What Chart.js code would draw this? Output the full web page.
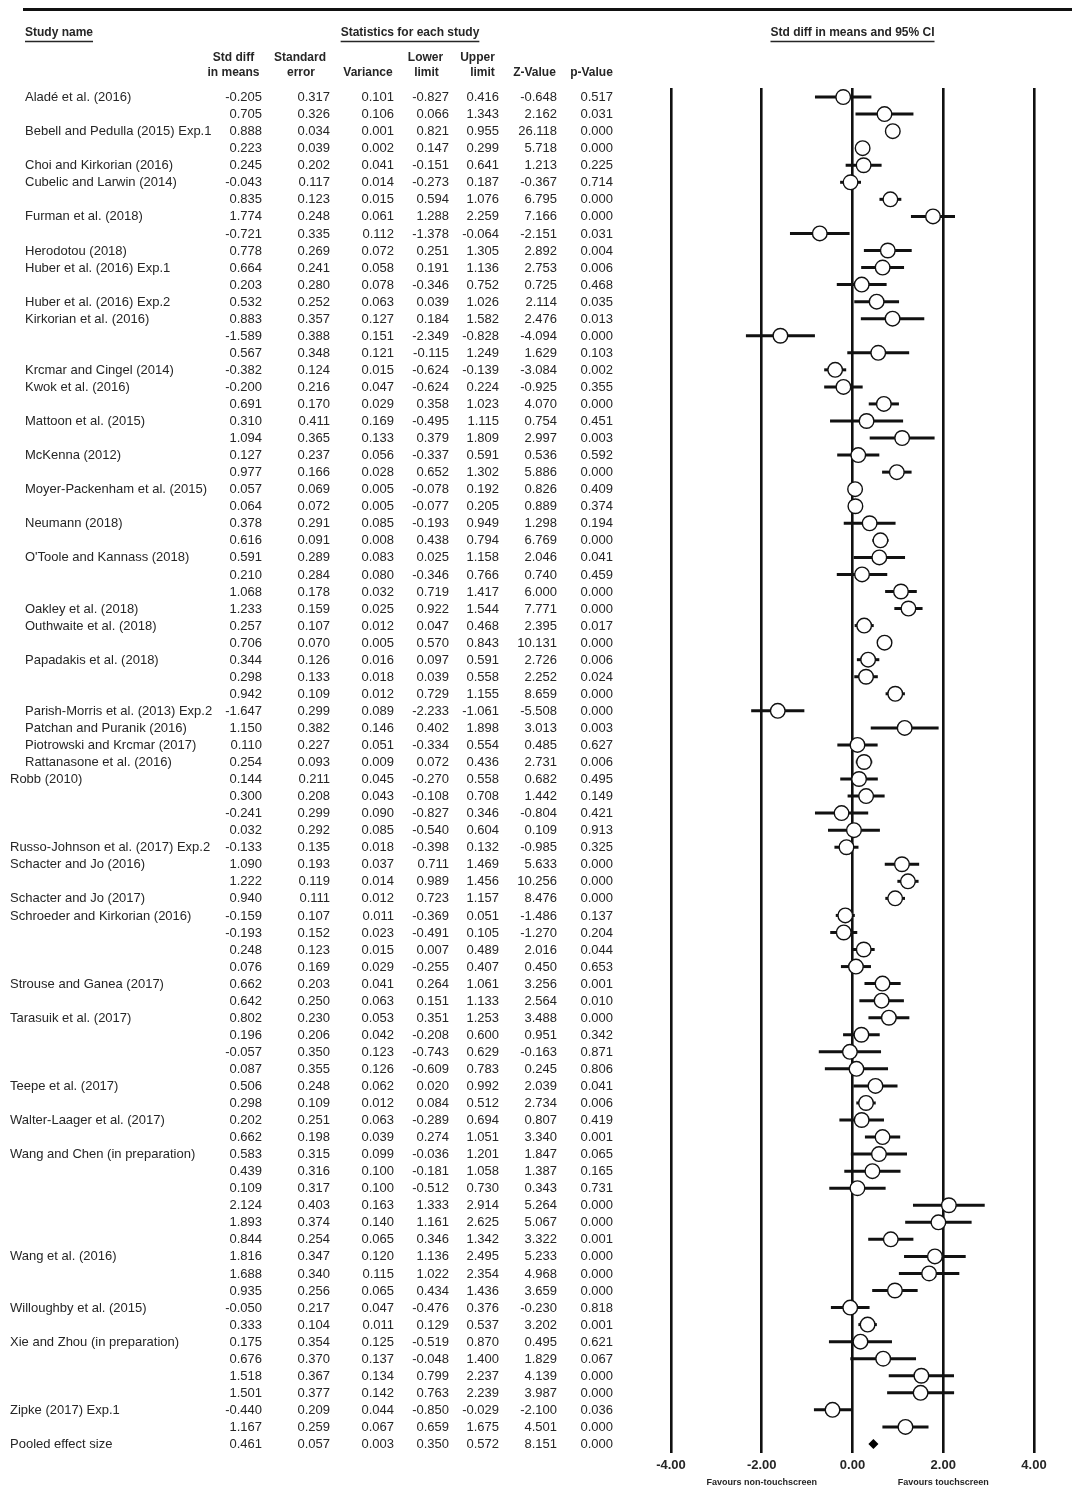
<!DOCTYPE html>
<html><head><meta charset="utf-8">
<script src="https://cdn.jsdelivr.net/npm/chart.js@4.4.0/dist/chart.umd.min.js"></script>
<style>html,body{margin:0;padding:0;background:#fff}canvas{display:block}</style>
</head><body>
<canvas id="c" width="1072" height="1512"></canvas>
<script>
const studyNames = [
"Aladé et al. (2016)","",
"Bebell and Pedulla (2015) Exp.1","",
"Choi and Kirkorian (2016)",
"Cubelic and Larwin (2014)","",
"Furman et al. (2018)","",
"Herodotou (2018)",
"Huber et al. (2016) Exp.1","",
"Huber et al. (2016) Exp.2",
"Kirkorian et al. (2016)","","",
"Krcmar and Cingel (2014)",
"Kwok et al. (2016)","",
"Mattoon et al. (2015)","",
"McKenna (2012)","",
"Moyer-Packenham et al. (2015)","",
"Neumann (2018)","",
"O'Toole and Kannass (2018)","","",
"Oakley et al. (2018)",
"Outhwaite et al. (2018)","",
"Papadakis et al. (2018)","","",
"Parish-Morris et al. (2013) Exp.2",
"Patchan and Puranik (2016)",
"Piotrowski and Krcmar (2017)",
"Rattanasone et al. (2016)",
"Robb (2010)","","","",
"Russo-Johnson et al. (2017) Exp.2",
"Schacter and Jo (2016)","",
"Schacter and Jo (2017)",
"Schroeder and Kirkorian (2016)","","","",
"Strouse and Ganea (2017)","",
"Tarasuik et al. (2017)","","","",
"Teepe et al. (2017)","",
"Walter-Laager et al. (2017)","",
"Wang and Chen (in preparation)","","","","","",
"Wang et al. (2016)","","",
"Willoughby et al. (2015)","",
"Xie and Zhou (in preparation)","","","",
"Zipke (2017) Exp.1","",
"Pooled effect size"
];
const stdDiff = [-0.205,0.705,0.888,0.223,0.245,-0.043,0.835,1.774,-0.721,0.778,0.664,0.203,0.532,0.883,-1.589,0.567,-0.382,-0.200,0.691,0.310,1.094,0.127,0.977,0.057,0.064,0.378,0.616,0.591,0.210,1.068,1.233,0.257,0.706,0.344,0.298,0.942,-1.647,1.150,0.110,0.254,0.144,0.300,-0.241,0.032,-0.133,1.090,1.222,0.940,-0.159,-0.193,0.248,0.076,0.662,0.642,0.802,0.196,-0.057,0.087,0.506,0.298,0.202,0.662,0.583,0.439,0.109,2.124,1.893,0.844,1.816,1.688,0.935,-0.050,0.333,0.175,0.676,1.518,1.501,-0.440,1.167,0.461];
const stdErr = [0.317,0.326,0.034,0.039,0.202,0.117,0.123,0.248,0.335,0.269,0.241,0.280,0.252,0.357,0.388,0.348,0.124,0.216,0.170,0.411,0.365,0.237,0.166,0.069,0.072,0.291,0.091,0.289,0.284,0.178,0.159,0.107,0.070,0.126,0.133,0.109,0.299,0.382,0.227,0.093,0.211,0.208,0.299,0.292,0.135,0.193,0.119,0.111,0.107,0.152,0.123,0.169,0.203,0.250,0.230,0.206,0.350,0.355,0.248,0.109,0.251,0.198,0.315,0.316,0.317,0.403,0.374,0.254,0.347,0.340,0.256,0.217,0.104,0.354,0.370,0.367,0.377,0.209,0.259,0.057];
const variance = [0.101,0.106,0.001,0.002,0.041,0.014,0.015,0.061,0.112,0.072,0.058,0.078,0.063,0.127,0.151,0.121,0.015,0.047,0.029,0.169,0.133,0.056,0.028,0.005,0.005,0.085,0.008,0.083,0.080,0.032,0.025,0.012,0.005,0.016,0.018,0.012,0.089,0.146,0.051,0.009,0.045,0.043,0.090,0.085,0.018,0.037,0.014,0.012,0.011,0.023,0.015,0.029,0.041,0.063,0.053,0.042,0.123,0.126,0.062,0.012,0.063,0.039,0.099,0.100,0.100,0.163,0.140,0.065,0.120,0.115,0.065,0.047,0.011,0.125,0.137,0.134,0.142,0.044,0.067,0.003];
const lowerLimit = [-0.827,0.066,0.821,0.147,-0.151,-0.273,0.594,1.288,-1.378,0.251,0.191,-0.346,0.039,0.184,-2.349,-0.115,-0.624,-0.624,0.358,-0.495,0.379,-0.337,0.652,-0.078,-0.077,-0.193,0.438,0.025,-0.346,0.719,0.922,0.047,0.570,0.097,0.039,0.729,-2.233,0.402,-0.334,0.072,-0.270,-0.108,-0.827,-0.540,-0.398,0.711,0.989,0.723,-0.369,-0.491,0.007,-0.255,0.264,0.151,0.351,-0.208,-0.743,-0.609,0.020,0.084,-0.289,0.274,-0.036,-0.181,-0.512,1.333,1.161,0.346,1.136,1.022,0.434,-0.476,0.129,-0.519,-0.048,0.799,0.763,-0.850,0.659,0.350];
const upperLimit = [0.416,1.343,0.955,0.299,0.641,0.187,1.076,2.259,-0.064,1.305,1.136,0.752,1.026,1.582,-0.828,1.249,-0.139,0.224,1.023,1.115,1.809,0.591,1.302,0.192,0.205,0.949,0.794,1.158,0.766,1.417,1.544,0.468,0.843,0.591,0.558,1.155,-1.061,1.898,0.554,0.436,0.558,0.708,0.346,0.604,0.132,1.469,1.456,1.157,0.051,0.105,0.489,0.407,1.061,1.133,1.253,0.600,0.629,0.783,0.992,0.512,0.694,1.051,1.201,1.058,0.730,2.914,2.625,1.342,2.495,2.354,1.436,0.376,0.537,0.870,1.400,2.237,2.239,-0.029,1.675,0.572];
const zValue = [-0.648,2.162,26.118,5.718,1.213,-0.367,6.795,7.166,-2.151,2.892,2.753,0.725,2.114,2.476,-4.094,1.629,-3.084,-0.925,4.070,0.754,2.997,0.536,5.886,0.826,0.889,1.298,6.769,2.046,0.740,6.000,7.771,2.395,10.131,2.726,2.252,8.659,-5.508,3.013,0.485,2.731,0.682,1.442,-0.804,0.109,-0.985,5.633,10.256,8.476,-1.486,-1.270,2.016,0.450,3.256,2.564,3.488,0.951,-0.163,0.245,2.039,2.734,0.807,3.340,1.847,1.387,0.343,5.264,5.067,3.322,5.233,4.968,3.659,-0.230,3.202,0.495,1.829,4.139,3.987,-2.100,4.501,8.151];
const pValue = [0.517,0.031,0.000,0.000,0.225,0.714,0.000,0.000,0.031,0.004,0.006,0.468,0.035,0.013,0.000,0.103,0.002,0.355,0.000,0.451,0.003,0.592,0.000,0.409,0.374,0.194,0.000,0.041,0.459,0.000,0.000,0.017,0.000,0.006,0.024,0.000,0.000,0.003,0.627,0.006,0.495,0.149,0.421,0.913,0.325,0.000,0.000,0.000,0.137,0.204,0.044,0.653,0.001,0.010,0.000,0.342,0.871,0.806,0.041,0.006,0.419,0.001,0.065,0.165,0.731,0.000,0.000,0.001,0.000,0.000,0.000,0.818,0.001,0.621,0.067,0.000,0.000,0.036,0.000,0.000];
const xTicks = [-4, -2, 0, 2, 4];
const axisNotes = ["Favours non-touchscreen", "Favours touchscreen"];

const pooledIndex = studyNames.length - 1;
const FONT = '"Liberation Sans", Arial, Helvetica, sans-serif';
const TXT = '#262626';

const points = [];
for (let i = 0; i < pooledIndex; i++) points.push({x: stdDiff[i], y: i});

const tablePlugin = {
  id: 'table',
  beforeDatasetsDraw(chart) {
    const ctx = chart.ctx, xs = chart.scales.x, ys = chart.scales.y;
    ctx.save();
    ctx.strokeStyle = '#111';
    ctx.lineWidth = 3;
    ctx.lineCap = 'butt';
    for (let i = 0; i < pooledIndex; i++) {
      const y = ys.getPixelForValue(i);
      ctx.beginPath();
      ctx.moveTo(xs.getPixelForValue(lowerLimit[i]), y);
      ctx.lineTo(xs.getPixelForValue(upperLimit[i]), y);
      ctx.stroke();
    }
    ctx.restore();
  },
  afterDraw(chart) {
    const ctx = chart.ctx, xs = chart.scales.x, ys = chart.scales.y;
    ctx.save();
    // pooled diamond
    const py = ys.getPixelForValue(pooledIndex);
    ctx.fillStyle = '#000';
    ctx.beginPath();
    ctx.moveTo(xs.getPixelForValue(lowerLimit[pooledIndex]), py);
    ctx.lineTo(xs.getPixelForValue(stdDiff[pooledIndex]), py - 5);
    ctx.lineTo(xs.getPixelForValue(upperLimit[pooledIndex]), py);
    ctx.lineTo(xs.getPixelForValue(stdDiff[pooledIndex]), py + 5);
    ctx.closePath();
    ctx.fill();

    // top rule
    ctx.strokeStyle = '#111';
    ctx.lineWidth = 3;
    ctx.beginPath(); ctx.moveTo(23, 9.5); ctx.lineTo(1072, 9.5); ctx.stroke();

    // section headers underlined
    ctx.fillStyle = TXT;
    ctx.font = 'bold 12px ' + FONT;
    ctx.textBaseline = 'middle';
    const under = (txt, x, align) => {
      ctx.textAlign = align;
      ctx.fillText(txt, x, 33);
      const w = ctx.measureText(txt).width;
      const x0 = align === 'left' ? x : x - w / 2;
      ctx.lineWidth = 1.3;
      ctx.strokeStyle = TXT;
      ctx.beginPath(); ctx.moveTo(x0, 41.5); ctx.lineTo(x0 + w, 41.5); ctx.stroke();
    };
    under('Study name', 25, 'left');
    under('Statistics for each study', 410, 'center');
    under('Std diff in means and 95% CI', xs.getPixelForValue(0), 'center');

    // column headers
    ctx.textAlign = 'center';
    const hdr = [['Std diff',233.5,58],['in means',233.5,73],['Standard',300,58],['error',301,73],
      ['Variance',368,73],['Lower',425.5,58],['limit',426.5,73],['Upper',477.5,58],['limit',482.5,73],
      ['Z-Value',534.5,73],['p-Value',591.5,73]];
    hdr.forEach(h => ctx.fillText(h[0], h[1], h[2]));

    // rows
    ctx.font = '13px ' + FONT;
    const cols = [stdDiff, stdErr, variance, lowerLimit, upperLimit, zValue, pValue];
    const colRight = [262, 330, 394, 449, 499, 557, 613];
    for (let i = 0; i < studyNames.length; i++) {
      const y = ys.getPixelForValue(i) + 0.5;
      ctx.textAlign = 'left';
      if (studyNames[i]) ctx.fillText(studyNames[i], i >= 40 ? 10 : 25, y);
      ctx.textAlign = 'right';
      cols.forEach((c, k) => ctx.fillText(c[i].toFixed(3), colRight[k], y));
    }

    // axis notes
    ctx.textAlign = 'center';
    ctx.font = 'bold 9px ' + FONT;
    ctx.fillText(axisNotes[0], xs.getPixelForValue(-2), 1483);
    ctx.fillText(axisNotes[1], xs.getPixelForValue(2), 1483);
    ctx.restore();
  }
};

new Chart(document.getElementById('c'), {
  type: 'scatter',
  data: {
    datasets: [{
      data: points,
      pointRadius: 7.3,
      pointHoverRadius: 7.3,
      pointBackgroundColor: '#fff',
      pointBorderColor: '#111',
      pointBorderWidth: 1.4,
      showLine: false
    }]
  },
  options: {
    responsive: false,
    animation: false,
    events: [],
    layout: { padding: { left: 671, right: 38, top: 88, bottom: 0 } },
    plugins: { legend: { display: false }, tooltip: { enabled: false } },
    scales: {
      x: {
        type: 'linear', min: xTicks[0], max: xTicks[xTicks.length - 1],
        afterBuildTicks: s => { s.ticks = xTicks.map(v => ({value: v})); },
        afterFit: s => { s.height = 59; },
        grid: { color: '#111', lineWidth: 2.6, drawTicks: false },
        border: { display: false },
        ticks: {
          padding: 5, color: '#262626',
          font: { family: FONT, size: 13, weight: 'bold' },
          callback: v => v.toFixed(2)
        }
      },
      y: {
        type: 'linear', min: -0.53, max: pooledIndex + 0.53, reverse: true,
        display: false
      }
    }
  },
  plugins: [tablePlugin]
});
</script>
</body></html>
